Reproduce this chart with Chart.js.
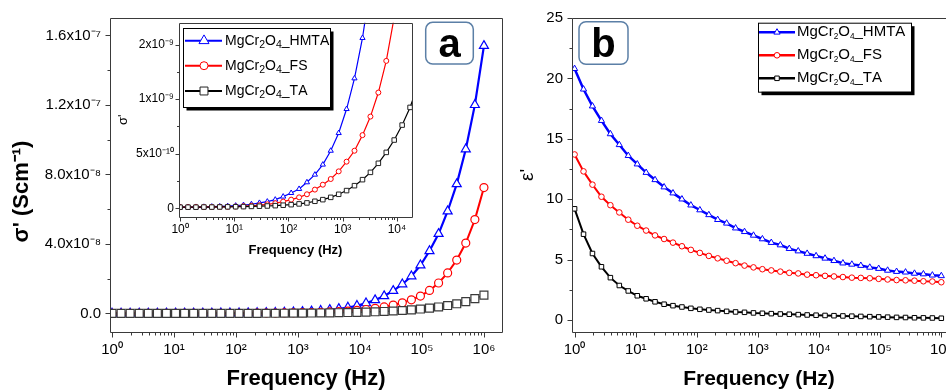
<!DOCTYPE html>
<html>
<head>
<meta charset="utf-8">
<script src="https://cdn.jsdelivr.net/npm/chart.js@4.4.0/dist/chart.umd.min.js"></script>
<style>
  html, body { margin: 0; padding: 0; background: #fff; overflow: hidden; }
  #wrap { position: relative; width: 946px; height: 392px; overflow: hidden; }
  canvas { position: absolute; }
  #chartA { left: 0; top: 0; }
  #chartB { left: 500px; top: 0; }
  #inset { left: 113px; top: 10px; }
</style>
</head>
<body>
<div id="wrap">
  <canvas id="chartB" width="480" height="392"></canvas>
  <canvas id="chartA" width="520" height="392"></canvas>
  <canvas id="inset" width="310" height="255"></canvas>
</div>
<script>
const FONT = "'Liberation Sans', Arial, sans-serif";

// measuring frequencies (Hz), same for every sample
const freq = [1, 1.4, 1.96, 2.75, 3.85, 5.39, 7.55, 10.6, 14.8, 20.7, 29.1, 40.7, 57, 79.8,
  112, 157, 219, 307, 430, 602, 844, 1180, 1650, 2320, 3250, 4550, 6370, 8920, 12500, 17500,
  24500, 34300, 48100, 67400, 94300, 132000, 185000, 259000, 363000, 508000, 712000, 997000];

const seriesNames = ['MgCr₂O₄_HMTA', 'MgCr₂O₄_FS', 'MgCr₂O₄_TA'];

// sigma' (S/cm)
const sigmaHMTA = [1.0e-11, 1.1e-11, 1.2e-11, 1.3e-11, 1.5e-11, 1.7e-11, 2.0e-11, 2.4e-11, 2.9e-11, 3.7e-11,
  4.9e-11, 6.1e-11, 7.9e-11, 1.07e-10, 1.40e-10, 1.77e-10, 2.38e-10, 3.08e-10, 4.0e-10, 5.27e-10,
  6.89e-10, 9.09e-10, 1.19e-9, 1.56e-9, 2.05e-9, 2.65e-9, 3.4e-9, 4.4e-9, 5.9e-9, 7.7e-9,
  1.0e-8, 1.3e-8, 1.68e-8, 2.14e-8, 2.77e-8, 3.59e-8, 4.58e-8, 5.88e-8, 7.44e-8, 9.45e-8, 1.2e-7, 1.54e-7];
const sigmaFS = [1.0e-11, 1.0e-11, 1.1e-11, 1.1e-11, 1.2e-11, 1.3e-11, 1.4e-11, 1.6e-11, 1.9e-11, 2.3e-11,
  2.8e-11, 3.6e-11, 4.6e-11, 6.1e-11, 7.9e-11, 1.0e-10, 1.28e-10, 1.71e-10, 2.16e-10, 2.68e-10,
  3.38e-10, 4.27e-10, 5.27e-10, 6.7e-10, 8.4e-10, 1.06e-9, 1.35e-9, 1.75e-9, 2.25e-9, 2.9e-9,
  3.75e-9, 4.8e-9, 6.1e-9, 7.8e-9, 1.0e-8, 1.32e-8, 1.75e-8, 2.33e-8, 3.07e-8, 4.05e-8, 5.4e-8, 7.24e-8];
const sigmaTA = [1.0e-11, 1.0e-11, 1.0e-11, 1.1e-11, 1.1e-11, 1.2e-11, 1.3e-11, 1.4e-11, 1.5e-11, 1.7e-11,
  1.9e-11, 2.1e-11, 2.4e-11, 2.8e-11, 3.3e-11, 4.0e-11, 4.9e-11, 6.4e-11, 7.9e-11, 1.0e-10,
  1.28e-10, 1.62e-10, 2.07e-10, 2.62e-10, 3.29e-10, 4.12e-10, 5.12e-10, 6.25e-10, 7.62e-10, 9.24e-10,
  1.13e-9, 1.38e-9, 1.68e-9, 2.05e-9, 2.5e-9, 3.05e-9, 3.72e-9, 4.54e-9, 5.54e-9, 6.8e-9, 8.5e-9, 1.05e-8];

// epsilon'
const epsHMTA = [20.8, 19.1, 17.7, 16.5, 15.4, 14.5, 13.6, 12.9, 12.2, 11.6, 11.0, 10.5, 10.0, 9.5,
  9.1, 8.7, 8.3, 8.0, 7.6, 7.3, 7.0, 6.7, 6.4, 6.2, 5.9, 5.7, 5.5, 5.3, 5.1, 4.9,
  4.7, 4.6, 4.5, 4.35, 4.25, 4.1, 4.0, 3.95, 3.85, 3.8, 3.7, 3.65];
const epsFS = [13.7, 12.3, 11.2, 10.2, 9.5, 8.9, 8.3, 7.8, 7.4, 7.0, 6.7, 6.4, 6.1, 5.8,
  5.55, 5.3, 5.1, 4.9, 4.7, 4.5, 4.35, 4.2, 4.1, 4.0, 3.9, 3.85, 3.75, 3.7, 3.65, 3.6,
  3.55, 3.5, 3.48, 3.45, 3.4, 3.35, 3.3, 3.28, 3.25, 3.2, 3.18, 3.12];
const epsTA = [9.2, 7.1, 5.5, 4.4, 3.5, 2.85, 2.4, 2.0, 1.75, 1.5, 1.3, 1.18, 1.07, 0.96,
  0.88, 0.82, 0.77, 0.71, 0.66, 0.63, 0.58, 0.55, 0.52, 0.49, 0.47, 0.44, 0.41, 0.39, 0.37, 0.35,
  0.33, 0.31, 0.29, 0.27, 0.25, 0.23, 0.21, 0.2, 0.18, 0.17, 0.16, 0.14];

// tick values and labels
const logTicks = [1, 10, 100, 1e3, 1e4, 1e5, 1e6];
const logLabels = ['10⁰', '10¹', '10²', '10³', '10⁴', '10⁵', '10⁶'];
const sigmaTicks = [0, 4e-8, 8e-8, 1.2e-7, 1.6e-7];
const sigmaLabels = ['0.0', '4.0x10⁻⁸', '8.0x10⁻⁸', '1.2x10⁻⁷', '1.6x10⁻⁷'];
const sigmaMinor = [2e-8, 6e-8, 1e-7, 1.4e-7];
const insetTicks = [0, 5e-10, 1e-9, 1.5e-9];
const insetLabels = ['0', '5x10⁻¹⁰', '1x10⁻⁹', '2x10⁻⁹'];
const insetMinor = [2.5e-10, 7.5e-10, 1.25e-9];
const epsTicks = [0, 5, 10, 15, 20, 25];
const epsLabels = ['0', '5', '10', '15', '20', '25'];
const epsMinor = [2.5, 7.5, 12.5, 17.5, 22.5];

function pts(ys) {
  return freq.map((f, i) => ({x: f, y: ys[i]}));
}

function makeSets(values, st) {
  return values.map((ys, i) => ({
    label: seriesNames[i],
    data: pts(ys),
    borderColor: st.line[i],
    borderWidth: st.lineWidth[i],
    pointStyle: st.shape[i],
    pointRadius: st.radius[i],
    pointBorderColor: st.mark[i],
    pointBackgroundColor: '#fff',
    pointBorderWidth: st.pointBorder,
    order: 2 - i,
    tension: 0
  }));
}

function logAxis(min, max, h, size, pad, title, tSize, tPad) {
  return {
    type: 'logarithmic', min: min, max: max,
    grid: {display: false, drawTicks: false}, border: {display: false},
    afterBuildTicks: s => { s.ticks = logTicks.filter(v => v >= min && v <= max).map(v => ({value: v})); },
    afterFit: s => { s.height = h; },
    ticks: {autoSkip: false, maxRotation: 0, padding: pad, color: '#000',
      font: {family: FONT, size: size}, callback: v => logLabels[logTicks.indexOf(v)]},
    title: {display: true, text: title, color: '#000',
      font: {family: FONT, size: tSize, weight: 'bold'}, padding: {top: 0, bottom: tPad}}
  };
}

function linAxis(min, max, w, vals, labels, size, pad, title, tFont, tPad) {
  return {
    type: 'linear', min: min, max: max,
    grid: {display: false, drawTicks: false}, border: {display: false},
    afterBuildTicks: s => { s.ticks = vals.map(v => ({value: v})); },
    afterFit: s => { s.width = w; },
    ticks: {padding: pad, color: '#000', font: {family: FONT, size: size},
      callback: (v, i) => labels[i]},
    title: {display: true, text: title, color: '#000', font: tFont, padding: {top: tPad, bottom: 0}}
  };
}

function mark(ctx, style, r, x, y) {
  ctx.beginPath();
  if (style === 'triangle') {
    ctx.moveTo(x, y - r);
    ctx.lineTo(x + r * 0.866, y + r * 0.5);
    ctx.lineTo(x - r * 0.866, y + r * 0.5);
    ctx.closePath();
  } else if (style === 'rect') {
    const s = r * Math.SQRT1_2;
    ctx.rect(x - s, y - s, 2 * s, 2 * s);
  } else {
    ctx.arc(x, y, r, 0, Math.PI * 2);
  }
  ctx.fill();
  ctx.stroke();
}

// label text with the unicode subscript digits drawn as lowered small digits
function richText(ctx, text, x, y, size, sub) {
  ctx.textBaseline = 'middle';
  ctx.textAlign = 'left';
  ctx.fillStyle = '#000';
  let cx = x;
  for (const ch of text) {
    const c = ch.codePointAt(0);
    if (c >= 0x2080 && c <= 0x2089) {
      const d = String(c - 0x2080);
      ctx.font = (size * sub.scale) + 'px ' + FONT;
      ctx.fillText(d, cx, y + size * sub.drop);
      cx += ctx.measureText(d).width;
    } else {
      ctx.font = size + 'px ' + FONT;
      ctx.fillText(ch, cx, y);
      cx += ctx.measureText(ch).width;
    }
  }
}

function drawLegend(chart, L) {
  const ctx = chart.ctx;
  ctx.save();
  ctx.fillStyle = '#000';
  ctx.fillRect(L.x + L.shadow, L.y + L.shadow, L.w, L.h);
  ctx.fillStyle = '#fff';
  ctx.fillRect(L.x, L.y, L.w, L.h);
  ctx.strokeStyle = '#000';
  ctx.lineWidth = 1;
  ctx.strokeRect(L.x + 0.5, L.y + 0.5, L.w, L.h);
  chart.data.datasets.forEach((ds, i) => {
    const yy = L.rows[i];
    ctx.strokeStyle = ds.borderColor;
    ctx.lineWidth = L.lineW;
    ctx.beginPath();
    ctx.moveTo(L.lx0, yy);
    ctx.lineTo(L.lx1, yy);
    ctx.stroke();
    ctx.fillStyle = '#fff';
    ctx.strokeStyle = ds.pointBorderColor;
    ctx.lineWidth = 1;
    mark(ctx, ds.pointStyle, L.r[i], L.mx, yy);
    richText(ctx, ds.label, L.tx, yy, L.font, L.sub);
  });
  ctx.restore();
}

function tagBox(ctx, b) {
  ctx.save();
  ctx.beginPath();
  ctx.roundRect(b.x, b.y, b.w, b.h, 7);
  ctx.fillStyle = '#fff';
  ctx.fill();
  ctx.strokeStyle = '#5b7fa6';
  ctx.lineWidth = 1.5;
  ctx.stroke();
  ctx.fillStyle = '#000';
  ctx.font = 'bold 40px ' + FONT;
  ctx.textAlign = 'center';
  ctx.textBaseline = 'alphabetic';
  ctx.fillText(b.text, b.x + b.w / 2, b.y + b.h - 7);
  ctx.restore();
}

// axes box, outward major / minor ticks, legend and panel tag
function framePlugin(opt) {
  return {
    id: 'frame',
    beforeDraw(chart) {
      if (!opt.fill) return;
      const a = chart.chartArea;
      chart.ctx.save();
      chart.ctx.fillStyle = '#fff';
      chart.ctx.fillRect(a.left, a.top, a.right - a.left, a.bottom - a.top);
      chart.ctx.restore();
    },
    afterDatasetsDraw(chart) {
      const ctx = chart.ctx, a = chart.chartArea, x = chart.scales.x, y = chart.scales.y;
      const L = Math.round(a.left) + 0.5, R = Math.round(a.right) + 0.5;
      const T = Math.round(a.top) + 0.5, B = Math.round(a.bottom) + 0.5;
      ctx.save();
      ctx.strokeStyle = '#3a3a3a';
      ctx.lineWidth = 1;
      ctx.beginPath();
      ctx.moveTo(L, T); ctx.lineTo(L, B); ctx.lineTo(R, B);
      if (opt.openRight) {
        ctx.moveTo(L, T); ctx.lineTo(chart.width, T);
      } else {
        ctx.lineTo(R, T); ctx.lineTo(L, T);
      }
      // x ticks (log decades)
      const e0 = Math.floor(Math.log10(x.min)), e1 = Math.ceil(Math.log10(x.max));
      for (let e = e0; e <= e1; e++) {
        for (let m = 1; m <= 9; m++) {
          const v = m * Math.pow(10, e);
          if (v < x.min || v > x.max) continue;
          const px = Math.round(x.getPixelForValue(v)) + 0.5;
          ctx.moveTo(px, B);
          ctx.lineTo(px, B + (m === 1 ? opt.major : opt.minor));
        }
      }
      // y ticks
      opt.yMajor.forEach(v => {
        const py = Math.round(y.getPixelForValue(v)) + 0.5;
        ctx.moveTo(L, py); ctx.lineTo(L - opt.major, py);
      });
      opt.yMinor.forEach(v => {
        const py = Math.round(y.getPixelForValue(v)) + 0.5;
        ctx.moveTo(L, py); ctx.lineTo(L - opt.minor, py);
      });
      ctx.stroke();
      ctx.restore();
      if (opt.legend) drawLegend(chart, opt.legend);
      if (opt.tag) tagBox(ctx, opt.tag);
    }
  };
}

const baseOpts = {
  responsive: false,
  animation: false,
  devicePixelRatio: 1,
  plugins: {legend: {display: false}, tooltip: {enabled: false}}
};

// panel a, main plot
new Chart(document.getElementById('chartA'), {
  type: 'line',
  data: {datasets: makeSets([sigmaHMTA, sigmaFS, sigmaTA], {
    line: ['#0000ff', '#ff0000', '#3a3a3a'],
    lineWidth: [2.2, 2, 1.5],
    shape: ['triangle', 'circle', 'rect'],
    radius: [5.2, 4, 5.6],
    mark: ['#0000ff', '#ff0000', '#3a3a3a'],
    pointBorder: 1.2
  })},
  options: Object.assign({}, baseOpts, {
    layout: {padding: {left: 0, top: 16, right: 18, bottom: 0}},
    scales: {
      x: logAxis(0.928, 1.95e6, 60, 15, 9, 'Frequency (Hz)', 22, 0),
      y: linAxis(-1.07e-8, 1.70e-7, 110, sigmaTicks, sigmaLabels, 15, 9,
        "σ' (Scm⁻¹)\u2002\u2002\u2002", {family: FONT, size: 22, weight: 'bold'}, 9)
    }
  }),
  plugins: [framePlugin({
    major: 5, minor: 3, yMajor: sigmaTicks, yMinor: sigmaMinor,
    tag: {x: 425.7, y: 22.3, w: 47.6, h: 41.7, text: 'a'}
  })]
});

// panel a, inset
new Chart(document.getElementById('inset'), {
  type: 'line',
  data: {datasets: makeSets([sigmaHMTA, sigmaFS, sigmaTA], {
    line: ['#0000ff', '#ff0000', '#000000'],
    lineWidth: [1.2, 1.2, 1.2],
    shape: ['triangle', 'circle', 'rect'],
    radius: [3, 2.5, 3.2],
    mark: ['#0000ff', '#ff0000', '#222222'],
    pointBorder: 1
  })},
  options: Object.assign({}, baseOpts, {
    layout: {padding: {left: 0, top: 12.7, right: 11, bottom: 0}},
    scales: {
      x: logAxis(0.955, 19000, 48, 12, 5, 'Frequency (Hz)', 13, 6.5),
      y: linAxis(-0.8e-10, 1.70e-9, 66, insetTicks, insetLabels, 12, 5,
        "σ'", {family: FONT, size: 13}, 2.2)
    }
  }),
  plugins: [framePlugin({
    fill: true, major: 4, minor: 2.5, yMajor: insetTicks, yMinor: insetMinor,
    legend: {x: 70, y: 18, w: 147, h: 79, shadow: 3.5, rows: [30.7, 55.7, 81],
      lx0: 72, lx1: 109, mx: 91, tx: 112, lineW: 2, r: [5.8, 4, 5.6], font: 14,
      sub: {scale: 0.75, drop: 0.3}}
  })]
});

// panel b
new Chart(document.getElementById('chartB'), {
  type: 'line',
  data: {datasets: makeSets([epsHMTA, epsFS, epsTA], {
    line: ['#0000ff', '#ff0000', '#000000'],
    lineWidth: [2.5, 2, 2],
    shape: ['triangle', 'circle', 'rect'],
    radius: [3.6, 2.8, 3.2],
    mark: ['#0000ff', '#ff0000', '#000000'],
    pointBorder: 1
  })},
  options: Object.assign({}, baseOpts, {
    layout: {padding: {left: 0, top: 16, right: 34, bottom: 0}},
    scales: {
      x: logAxis(0.907, 1.19e6, 60, 15, 9, 'Frequency (Hz)', 21, 0),
      y: linAxis(-1, 25, 72, epsTicks, epsLabels, 15, 9,
        "ε'", {family: FONT, size: 19}, 16)
    }
  }),
  plugins: [framePlugin({
    openRight: true, major: 5, minor: 3, yMajor: epsTicks, yMinor: epsMinor,
    tag: {x: 79, y: 21.7, w: 49, h: 42.6, text: 'b'},
    legend: {x: 258, y: 22.7, w: 153, h: 69, shadow: 3.5, rows: [32.3, 55.3, 78.3],
      lx0: 259, lx1: 295, mx: 277, tx: 297, lineW: 2.5, r: [3.6, 2.8, 3.2], font: 15,
      sub: {scale: 0.55, drop: 0.3}}
  })]
});
</script>
</body>
</html>
